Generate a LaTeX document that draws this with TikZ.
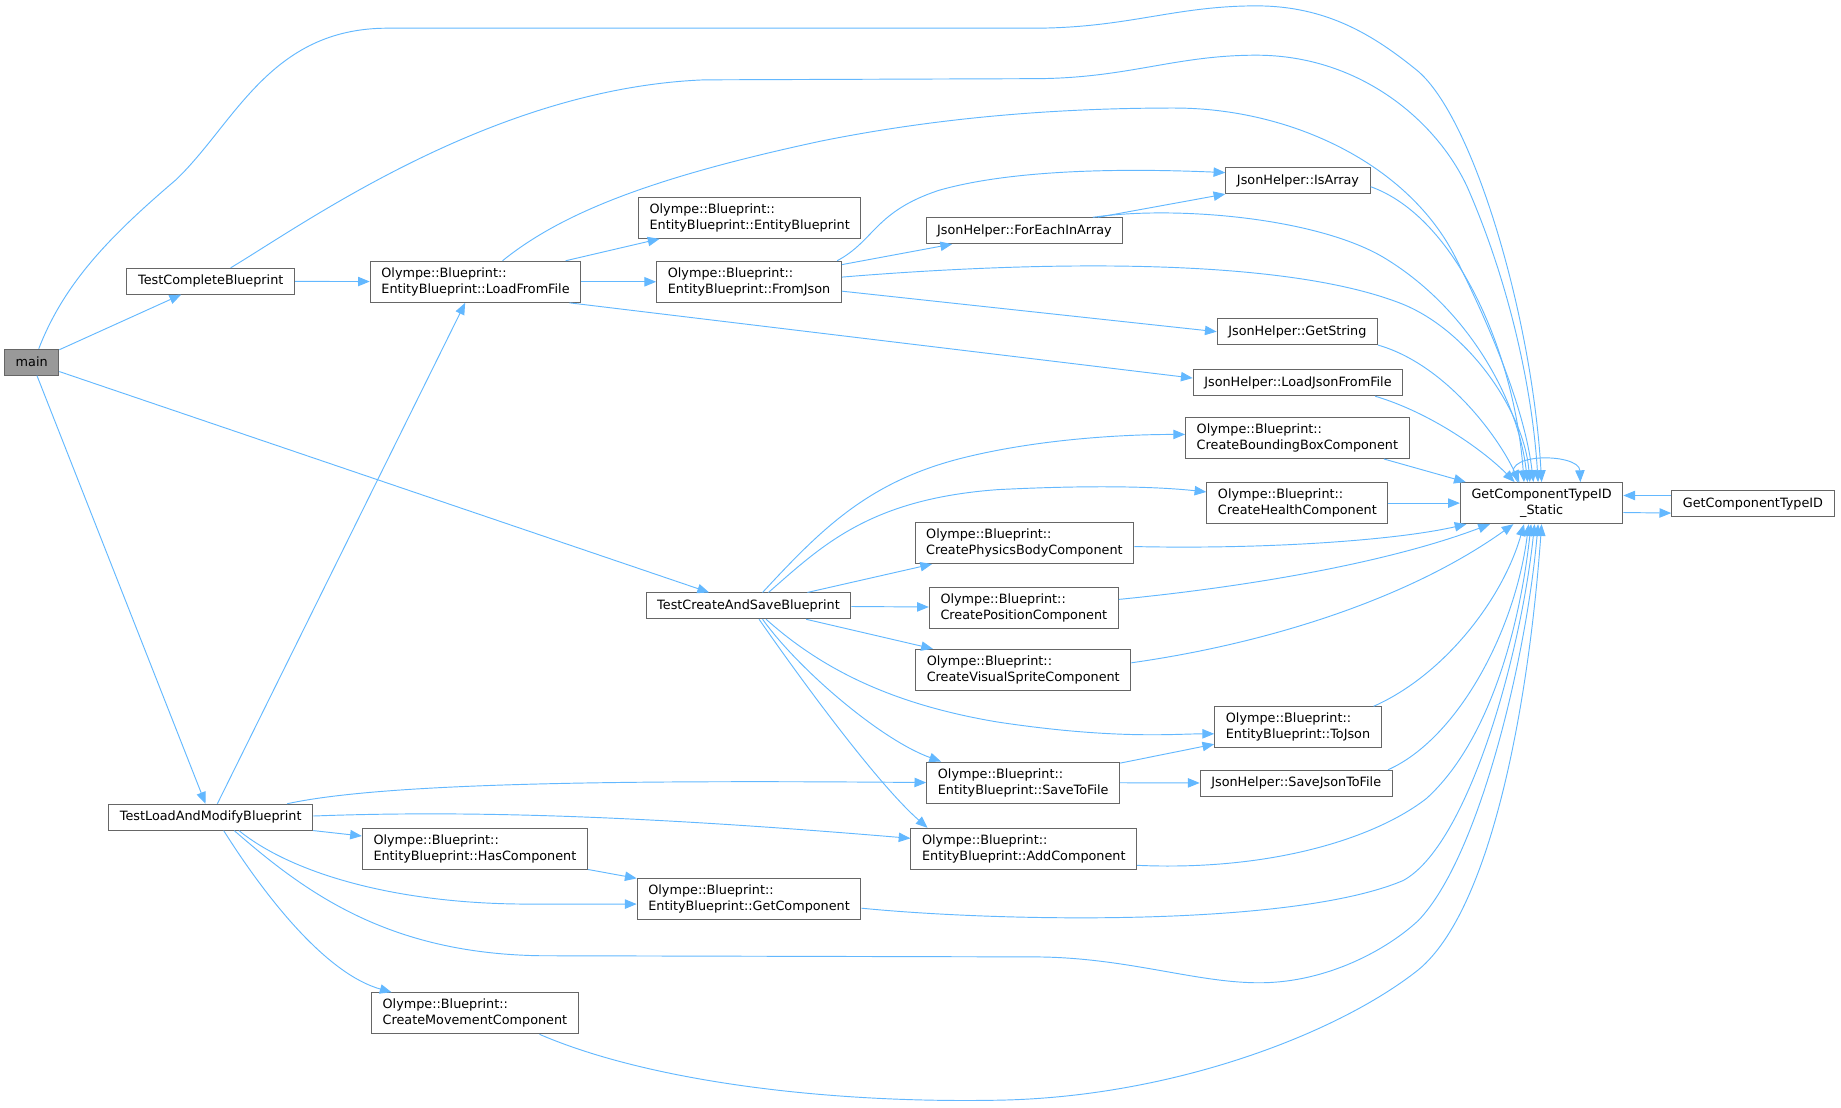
\documentclass[tikz,border=0pt]{standalone}
\usepackage{fontspec}
\setmainfont{DejaVu Sans}
\usetikzlibrary{arrows.meta}

\definecolor{edgeblue}{HTML}{63B8FF}
\definecolor{boxline}{HTML}{666666}
\definecolor{rootfill}{HTML}{999999}

\begin{document}
\begin{tikzpicture}[x=1pt,y=-1pt,
    fn/.style={draw=boxline, fill=white, line width=0.85pt, inner xsep=9.5pt, inner ysep=0pt,
        minimum height=22pt, font=\fontsize{10.9}{13.6}\selectfont},
    fn2/.style={fn, minimum height=35pt, align=left},
    call/.style={draw, color=edgeblue, line width=0.8pt, -{Triangle[length=10pt,width=8pt]}},
    every edge/.style={call}]
    \useasboundingbox (0,0) rectangle (1568,943);

    % functions
    \node[fn, fill=rootfill] (main) at (27,308.5) {main};
    \node[fn] (tcb) at (179.5,239.5) {TestCompleteBlueprint};
    \node[fn2] (lff) at (405,240) {Olympe::Blueprint::\\EntityBlueprint::LoadFromFile};
    \node[fn2] (ebp) at (638.5,185.5) {Olympe::Blueprint::\\EntityBlueprint::EntityBlueprint};
    \node[fn2] (fromjson) at (638,240) {Olympe::Blueprint::\\EntityBlueprint::FromJson};
    \node[fn] (isarray) at (1105.5,154) {JsonHelper::IsArray};
    \node[fn] (foreach) at (872.5,196.5) {JsonHelper::ForEachInArray};
    \node[fn] (getstring) at (1105,282.5) {JsonHelper::GetString};
    \node[fn] (loadjson) at (1105.5,326) {JsonHelper::LoadJsonFromFile};
    \node[fn2] (bbox) at (1105,373) {Olympe::Blueprint::\\CreateBoundingBoxComponent};
    \node[fn2] (health) at (1105,428.5) {Olympe::Blueprint::\\CreateHealthComponent};
    \node[fn2, align=center] (static) at (1313,428.5) {GetComponentTypeID\\\_Static};
    \node[fn] (gcid) at (1493,429) {GetComponentTypeID};
    \node[fn2] (physics) at (872.5,462.5) {Olympe::Blueprint::\\CreatePhysicsBodyComponent};
    \node[fn] (tcasb) at (637.5,516) {TestCreateAndSaveBlueprint};
    \node[fn2] (position) at (872,517.5) {Olympe::Blueprint::\\CreatePositionComponent};
    \node[fn2] (visual) at (871.5,570.5) {Olympe::Blueprint::\\CreateVisualSpriteComponent};
    \node[fn2] (tojson) at (1105.5,619.5) {Olympe::Blueprint::\\EntityBlueprint::ToJson};
    \node[fn2] (savefile) at (871.5,666.5) {Olympe::Blueprint::\\EntityBlueprint::SaveToFile};
    \node[fn] (savejson) at (1104,667) {JsonHelper::SaveJsonToFile};
    \node[fn] (tlamb) at (179.5,696) {TestLoadAndModifyBlueprint};
    \node[fn2] (hascomp) at (404.5,723) {Olympe::Blueprint::\\EntityBlueprint::HasComponent};
    \node[fn2] (addcomp) at (872,723) {Olympe::Blueprint::\\EntityBlueprint::AddComponent};
    \node[fn2] (getcomp) at (638,765.5) {Olympe::Blueprint::\\EntityBlueprint::GetComponent};
    \node[fn2] (movement) at (404.5,863) {Olympe::Blueprint::\\CreateMovementComponent};

    % straight calls
    \path
        (main) edge (tcb)
        (main) edge (tcasb)
        (main) edge (tlamb)
        (tcb) edge (lff)
        (lff) edge (ebp)
        (lff) edge (fromjson)
        ([xshift=-10pt]lff.south east) edge ([yshift=4pt]loadjson.west)
        (fromjson) edge (foreach)
        ([yshift=-8pt]fromjson.east) edge (getstring.west)
        (foreach) edge (isarray)
        ([xshift=-22pt]bbox.south east) edge ([xshift=5pt]static.north west)
        (health) edge (static)
        ([yshift=-8pt]static.east) edge ([yshift=-8pt]gcid.west)
        ([yshift=7pt]gcid.west) edge ([yshift=6.5pt]static.east)
        (tcasb) edge (physics)
        (tcasb) edge (position)
        (tcasb) edge (visual)
        (savefile) edge (tojson)
        (savefile) edge (savejson)
        (tlamb) edge (lff)
        (tlamb.south east) edge ([yshift=11pt]hascomp.west)
        (hascomp) edge (getcomp);

    % curved calls, top side
    \draw[call] ([xshift=6pt]main.north) .. controls (55,240) and (95,200) .. (150,153)
        .. controls (200,105) and (230,24) .. (330,24) -- (880,24)
        .. controls (960,24) and (1000,5) .. (1070,5)
        .. controls (1130,5) and (1170,30) .. (1207,60)
        .. controls (1255,100) and (1305,270) .. (static.north);
    \draw[call] ([xshift=17pt]tcb.north) .. controls (260,190) and (420,75) .. (600,68) -- (880,67)
        .. controls (960,67) and (1000,47) .. (1070,47)
        .. controls (1160,47) and (1225,105) .. (1250,160)
        .. controls (1285,240) and (1305,330) .. ([xshift=-3pt]static.north);
    \draw[call] ([xshift=23pt]lff.north) .. controls (480,180) and (560,150) .. (700,120)
        .. controls (800,100) and (900,92) .. (1000,92)
        .. controls (1100,92) and (1200,140) .. (1240,220)
        .. controls (1280,300) and (1300,360) .. ([xshift=-7pt]static.north);
    \draw[call] ([xshift=75pt]fromjson.north) .. controls (745,205) and (745,180) .. (800,162)
        .. controls (860,145) and (950,143) .. ([yshift=7pt]isarray.west);
    \draw[call] ([yshift=4pt]fromjson.east) .. controls (850,225) and (1080,215) .. (1192,258)
        .. controls (1250,280) and (1298,350) .. ([xshift=-10pt]static.north);
    \draw[call] ([xshift=-26pt]foreach.north east) .. controls (1000,175) and (1120,185) .. (1178,219)
        .. controls (1250,262) and (1293,340) .. ([xshift=-12pt]static.north);
    \draw[call] ([yshift=-5pt]isarray.east) .. controls (1240,185) and (1290,300) .. ([xshift=-15pt]static.north);
    \draw[call] (getstring.south east) .. controls (1230,310) and (1275,370) .. ([xshift=-19pt]static.north);
    \draw[call] ([xshift=-24pt]loadjson.south east) .. controls (1220,352) and (1265,385) .. ([xshift=-23pt]static.north);
    \draw[call] ([xshift=-20pt]static.north) .. controls (1270,385) and (1345,385) .. ([xshift=33pt]static.north);

    % curved calls, bottom side
    \draw[call] ([yshift=-3pt]physics.east) .. controls (1080,468) and (1190,460) .. ([xshift=-64pt]static.south);
    \draw[call] ([yshift=7pt]position.east) .. controls (1060,500) and (1180,480) .. ([xshift=-44pt]static.south);
    \draw[call] ([yshift=6pt]visual.east) .. controls (1080,548) and (1200,510) .. ([xshift=-24pt]static.south);
    \draw[call] ([xshift=-7pt]tojson.north east) .. controls (1230,575) and (1280,510) .. ([xshift=-15pt]static.south);
    \draw[call] ([xshift=-4pt]savejson.north east) .. controls (1240,630) and (1290,540) .. ([xshift=-11pt]static.south);
    \draw[call] ([yshift=-14pt]addcomp.east) .. controls (1080,742) and (1170,715) .. (1215,680)
        .. controls (1270,630) and (1295,530) .. ([xshift=-9pt]static.south);
    \draw[call] ([yshift=-8pt]getcomp.east) .. controls (850,785) and (1100,790) .. (1195,750)
        .. controls (1250,720) and (1295,560) .. ([xshift=-6pt]static.south);
    \draw[call] ([xshift=20pt]tlamb.south) .. controls (260,760) and (330,812) .. (460,814) -- (880,815)
        .. controls (960,815) and (1020,838) .. (1076,837)
        .. controls (1130,836) and (1180,810) .. (1208,784)
        .. controls (1260,730) and (1300,560) .. ([xshift=-3pt]static.south);
    \draw[call] ([xshift=55pt]movement.south) .. controls (550,920) and (700,940) .. (852,937)
        .. controls (1000,934) and (1140,880) .. (1208,826)
        .. controls (1270,775) and (1302,600) .. (static.south);

    % calls from the tests
    \draw[call] ([xshift=12pt]tcasb.north) .. controls (700,450) and (740,410) .. (820,390)
        .. controls (880,375) and (950,370) .. ([yshift=3pt]bbox.west);
    \draw[call] ([xshift=17pt]tcasb.north) .. controls (700,465) and (740,425) .. (850,417)
        .. controls (950,412) and (1000,416) .. ([yshift=9.5pt]health.west);
    \draw[call] ([xshift=15pt]tcasb.south) .. controls (700,570) and (760,600) .. (850,615)
        .. controls (950,630) and (1000,625) .. ([yshift=-5.5pt]tojson.west);
    \draw[call] ([xshift=12pt]tcasb.south) .. controls (680,570) and (750,630) .. ([xshift=-70pt]savefile.north);
    \draw[call] ([xshift=9pt]tcasb.south) .. controls (690,590) and (750,670) .. ([xshift=-82pt]addcomp.north);
    \draw[call] ([xshift=65pt]tlamb.north) .. controls (320,668) and (500,664) .. (savefile.west);
    \draw[call] ([yshift=1pt]tlamb.east) .. controls (400,690) and (550,695) .. ([yshift=9pt]addcomp.west);
    \draw[call] ([xshift=24pt]tlamb.south) .. controls (250,745) and (340,770) .. (450,770) -- ([yshift=-4.5pt]getcomp.west);
    \draw[call] ([xshift=11pt]tlamb.south) .. controls (230,770) and (280,830) .. ([xshift=-71pt]movement.north);
\end{tikzpicture}
\end{document}
